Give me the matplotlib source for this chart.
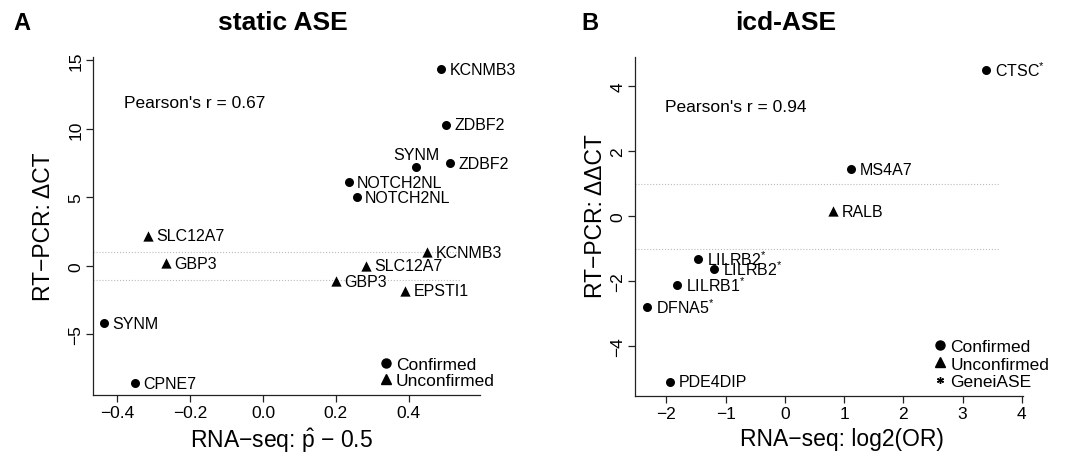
import matplotlib
matplotlib.use('Agg')
import matplotlib.pyplot as plt
from matplotlib.lines import Line2D

plt.rcParams['font.family'] = ['Liberation Sans', 'DejaVu Sans']
plt.rcParams['mathtext.fontset'] = 'custom'
plt.rcParams['mathtext.rm'] = 'Liberation Sans'
plt.rcParams['mathtext.it'] = 'Liberation Sans:italic'
plt.rcParams['axes.unicode_minus'] = True

# panel A: static ASE
genes_a = ['KCNMB3', 'ZDBF2', 'SYNM', 'ZDBF2', 'NOTCH2NL', 'NOTCH2NL',
           'SLC12A7', 'GBP3', 'KCNMB3', 'SLC12A7', 'GBP3', 'EPSTI1',
           'SYNM', 'CPNE7']
x_a = [0.488, 0.501, 0.42, 0.513, 0.235, 0.257,
       -0.315, -0.266, 0.45, 0.283, 0.20, 0.39,
       -0.435, -0.35]
y_a = [14.35, 10.3, 7.2, 7.5, 6.1, 5.0,
       2.2, 0.2, 1.0, 0.0, -1.1, -1.8,
       -4.2, -8.55]
confirmed_a = [True, True, True, True, True, True,
               False, False, False, False, False, False,
               True, True]

# panel B: icd-ASE
genes_b = ['CTSC', 'MS4A7', 'RALB', 'LILRB2', 'LILRB2', 'LILRB1', 'DFNA5', 'PDE4DIP']
x_b = [3.4, 1.11, 0.81, -1.47, -1.2, -1.82, -2.33, -1.94]
y_b = [4.5, 1.45, 0.15, -1.32, -1.63, -2.12, -2.8, -5.1]
confirmed_b = [True, True, False, True, True, True, True, True]
geneiase_b = [True, False, False, True, True, True, True, False]

r_a = 0.67
r_b = 0.94

# labels drawn above the point instead of to the right
above_a = [2]

fig = plt.figure(figsize=(10.84, 4.56), dpi=100)
axA = fig.add_axes([0.0858, 0.1316, 0.357, 0.7412])
axB = fig.add_axes([0.5858, 0.1294, 0.3579, 0.7434])


def style_axis(ax):
    for s in ['top', 'right']:
        ax.spines[s].set_visible(False)
    for s in ['left', 'bottom']:
        ax.spines[s].set_linewidth(0.9)
        ax.spines[s].set_color('#222222')
    ax.tick_params(direction='out', length=5, width=0.9, labelsize=12.5, color='#222222', pad=2)
    for lab in ax.get_yticklabels():
        lab.set_rotation(90)
        lab.set_va('center')


def draw_points(ax, xs, ys, conf):
    cx = [x for x, c in zip(xs, conf) if c]
    cy = [y for y, c in zip(ys, conf) if c]
    ux = [x for x, c in zip(xs, conf) if not c]
    uy = [y for y, c in zip(ys, conf) if not c]
    ax.scatter(cx, cy, marker='o', s=42, color='black', linewidths=0, zorder=3)
    ax.scatter(ux, uy, marker='^', s=55, color='black', linewidths=0, zorder=3)


# ---- panel A ----
ax = axA
ax.axhline(1, xmin=0, xmax=0.948, color='#bbbbbb', ls=':', lw=0.8)
ax.axhline(-1, xmin=0, xmax=0.948, color='#bbbbbb', ls=':', lw=0.8)
draw_points(ax, x_a, y_a, confirmed_a)
for i, g in enumerate(genes_a):
    if i in above_a:
        ax.annotate(g, (x_a[i], y_a[i]), xytext=(0, 9), textcoords='offset points',
                    ha='center', va='center', fontsize=11.5)
    else:
        ax.annotate(g, (x_a[i], y_a[i]), xytext=(6, 0), textcoords='offset points',
                    ha='left', va='center', fontsize=11.5)
ax.text(0.08, 0.864, f"Pearson's r = {r_a}", transform=ax.transAxes,
        ha='left', va='center', fontsize=12.5)
ax.set_xlim(-0.466, 0.595)
ax.set_ylim(-9.42, 15.25)
ax.set_xticks([-0.4, -0.2, 0.0, 0.2, 0.4])
ax.set_xticklabels(['\u22120.4', '\u22120.2', '0.0', '0.2', '0.4'])
ax.set_yticks([-5, 0, 5, 10, 15])
ax.set_yticklabels(['\u22125', '0', '5', '10', '15'])
style_axis(ax)
ax.set_xlabel('RNA\u2212seq: $\\hat{\\mathrm{p}}$ \u2212 0.5', fontsize=16.5)
ax.set_ylabel('RT\u2212PCR: \u0394CT', fontsize=16.5)
ax.xaxis.set_label_coords(0.486, -0.09)
ax.yaxis.set_label_coords(-0.098, 0.5)
hA = [Line2D([], [], marker='o', ls='', color='black', markersize=6.5),
      Line2D([], [], marker='^', ls='', color='black', markersize=7)]
ax.legend(hA, ['Confirmed', 'Unconfirmed'], loc='lower left', bbox_to_anchor=(0.703, -0.015),
          frameon=False, fontsize=12.5, handlelength=1.0, handletextpad=0.08,
          labelspacing=0.05, borderpad=0.2)

# ---- panel B ----
ax = axB
ax.axhline(1, xmin=0, xmax=0.94, color='#bbbbbb', ls=':', lw=0.8)
ax.axhline(-1, xmin=0, xmax=0.94, color='#bbbbbb', ls=':', lw=0.8)
draw_points(ax, x_b, y_b, confirmed_b)
for i, g in enumerate(genes_b):
    lab = g + ('$^{*}$' if geneiase_b[i] else '')
    ax.annotate(lab, (x_b[i], y_b[i]), xytext=(6.5, 0), textcoords='offset points',
                ha='left', va='center', fontsize=11.5)
ax.text(0.077, 0.853, f"Pearson's r = {r_b}", transform=ax.transAxes,
        ha='left', va='center', fontsize=12.5)
ax.set_xlim(-2.53, 4.02)
ax.set_ylim(-5.54, 4.9)
ax.set_xticks([-2, -1, 0, 1, 2, 3, 4])
ax.set_xticklabels(['\u22122', '\u22121', '0', '1', '2', '3', '4'])
ax.set_yticks([-4, -2, 0, 2, 4])
ax.set_yticklabels(['\u22124', '\u22122', '0', '2', '4'])
style_axis(ax)
ax.set_xlabel('RNA\u2212seq: log2(OR)', fontsize=16.5)
ax.set_ylabel('RT\u2212PCR: \u0394\u0394CT', fontsize=16.5)
ax.xaxis.set_label_coords(0.533, -0.09)
ax.yaxis.set_label_coords(-0.072, 0.534)
hB = [Line2D([], [], marker='o', ls='', color='black', markersize=6.5),
      Line2D([], [], marker='^', ls='', color='black', markersize=7),
      Line2D([], [], marker=(6, 2, 0), ls='', color='black', markersize=5, mew=1)]
ax.legend(hB, ['Confirmed', 'Unconfirmed', 'GeneiASE'], loc='lower left', bbox_to_anchor=(0.733, -0.015),
          frameon=False, fontsize=12.5, handlelength=1.0, handletextpad=0.08,
          labelspacing=0.13, borderpad=0.2)

# titles and panel letters
fig.text(283 / 1084, 1 - 23 / 456, 'static ASE', ha='center', va='center', fontsize=19, fontweight='bold')
fig.text(786 / 1084, 1 - 23 / 456, 'icd-ASE', ha='center', va='center', fontsize=19, fontweight='bold')
fig.text(22 / 1084, 1 - 23 / 456, 'A', ha='center', va='center', fontsize=17, fontweight='bold')
fig.text(590 / 1084, 1 - 23 / 456, 'B', ha='center', va='center', fontsize=17, fontweight='bold')

fig.savefig('out.png', dpi=100)
